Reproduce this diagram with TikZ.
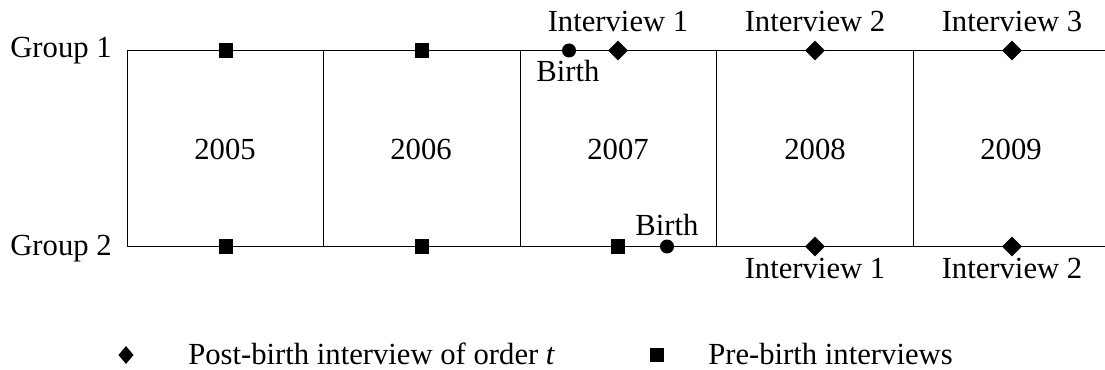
\documentclass[tikz,border=0pt]{standalone}
\usepackage{fontspec}
\setmainfont{Liberation Serif}
\usetikzlibrary{shapes.geometric}
\begin{document}
\begin{tikzpicture}[x=0.75pt,y=-0.75pt,
  every node/.style={font=\fontsize{23}{27}\selectfont, inner sep=0pt},
  lbl/.style={anchor=base},
  timeline/.style={line width=1.3pt},
  divider/.style={line width=0.6pt},
  sqmark/.style={rectangle, fill=black, minimum size=11pt},
  dotmark/.style={circle, fill=black, minimum size=10.5pt},
  dmmark/.style={diamond, fill=black, minimum width=15pt, minimum height=15pt},
  legdm/.style={diamond, fill=black, minimum width=11.5pt, minimum height=13.5pt},
  legsq/.style={rectangle, fill=black, minimum size=10pt}]
\useasboundingbox (0,0) rectangle (1105,370);
% timeline anchor coordinates
\coordinate (t0) at (127,50.5);
\coordinate (tE) at (1105,50.5);
\coordinate (b0) at (127,246.5);
\coordinate (bE) at (1105,246.5);
\foreach \i/\x in {1/323,2/520,3/716,4/913}{
  \coordinate (vt\i) at (\x,50.5);
  \coordinate (vb\i) at (\x,246.5);
}
% dividers
\draw[divider] (t0) -- (b0);
\foreach \i in {1,...,4}{ \draw[divider] (vt\i) -- (vb\i); }
% timelines
\draw[timeline] (t0) -- (tE);
\draw[timeline] (b0) -- (bE);
% group labels
\node[lbl] (g1) at (61,58) {Group 1};
\node[lbl] (g2) at (61,255) {Group 2};
% years
\node[lbl] (y5) at (225,160) {2005};
\node[lbl] (y6) at (421,160) {2006};
\node[lbl] (y7) at (618,160) {2007};
\node[lbl] (y8) at (815,160) {2008};
\node[lbl] (y9) at (1011,160) {2009};
% group 1 markers
\node[sqmark] (s11) at (226,50.5) {};
\node[sqmark] (s12) at (422,50.5) {};
\node[dotmark] (bir1) at (569,50.5) {};
\node[dmmark] (d11) at (618,50.5) {};
\node[dmmark] (d12) at (815,50.5) {};
\node[dmmark] (d13) at (1012,50.5) {};
\node[lbl] (i11) at (618,32) {Interview 1};
\node[lbl] (i12) at (815,32) {Interview 2};
\node[lbl] (i13) at (1012,32) {Interview 3};
\node[lbl] (bl1) at (568,82) {Birth};
% group 2 markers
\node[sqmark] (s21) at (226,246.5) {};
\node[sqmark] (s22) at (422,246.5) {};
\node[sqmark] (s23) at (618,246.5) {};
\node[dotmark] (bir2) at (667,246.5) {};
\node[dmmark] (d21) at (815,246.5) {};
\node[dmmark] (d22) at (1012,246.5) {};
\node[lbl] (bl2) at (667,235) {Birth};
\node[lbl] (i21) at (815,278) {Interview 1};
\node[lbl] (i22) at (1012,278) {Interview 2};
% legend
\node[legdm] (ld) at (126,355) {};
\node[anchor=base west] (lt1) at (188,364) {Post-birth interview of order \textit{t}};
\node[legsq] (ls) at (657,355) {};
\node[anchor=base west] (lt2) at (708,364) {Pre-birth interviews};
\end{tikzpicture}
\end{document}
